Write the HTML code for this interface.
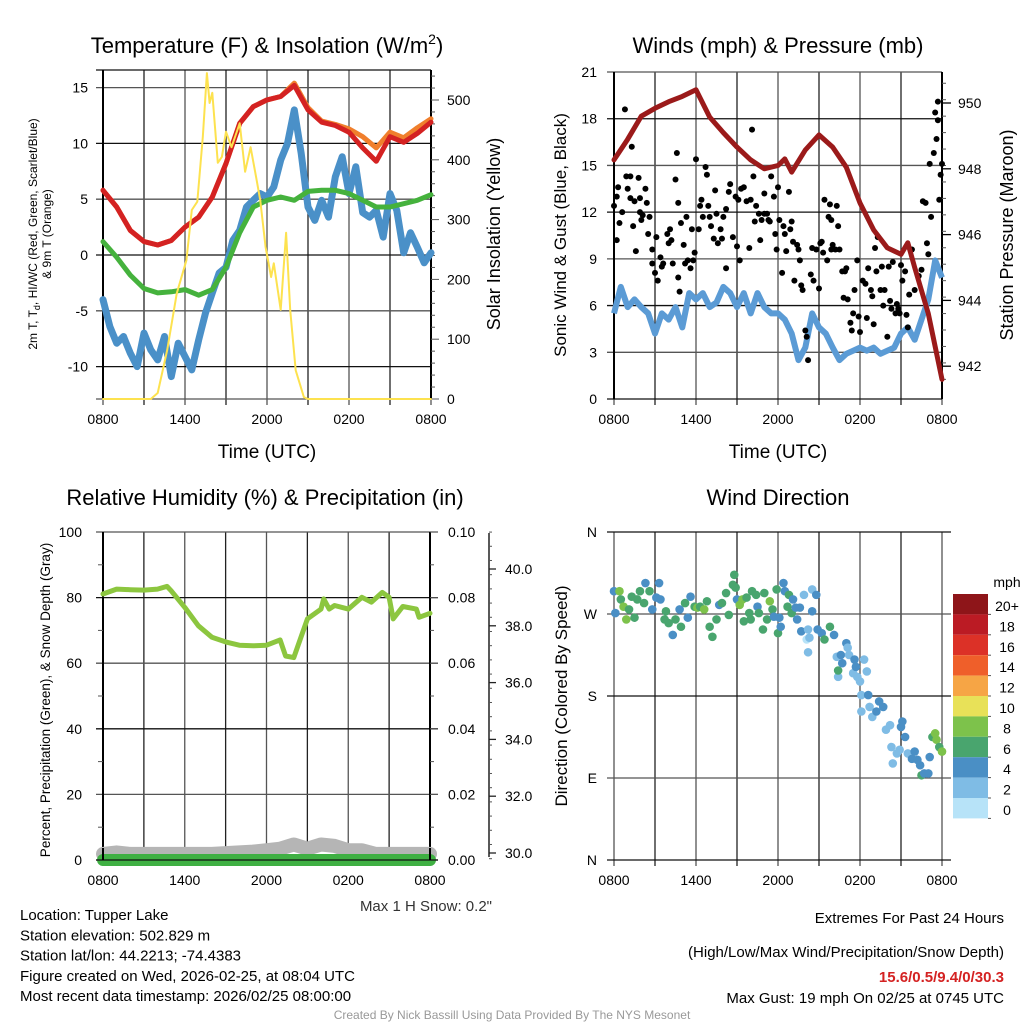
<!DOCTYPE html>
<html><head><meta charset="utf-8"><style>
body{margin:0;background:#fff;}
svg{display:block;font-family:"Liberation Sans",sans-serif;}
</style></head><body>
<svg id="c" width="1024" height="1024" viewBox="0 0 1024 1024" xmlns="http://www.w3.org/2000/svg"></svg>
<script>
// ---------- DATA ----------
const hourly = [0,1,2,3,4,5,6,7,8,9,10,11,12,13,14,15,16,17,18,19,20,21,22,23,24];
const tempRed = [5.8,4.3,2.2,1.2,0.9,1.3,2.5,3.4,5.2,8.2,11.8,13.3,13.9,14.2,15.2,13.0,11.9,11.6,11.0,9.6,8.4,10.6,10.1,10.9,11.9];
const tempOrange = [5.8,4.3,2.2,1.2,0.9,1.3,2.5,3.4,5.2,8.2,11.8,13.3,13.9,14.2,15.4,13.2,12.0,11.7,11.3,10.6,9.6,11.0,10.5,11.4,12.2];
const dewGreen = [1.2,-0.2,-1.8,-3.0,-3.4,-3.3,-3.1,-3.6,-3.1,-1.1,2.0,4.3,4.9,5.2,4.9,5.7,5.8,5.8,5.5,4.9,4.3,4.3,4.6,4.9,5.4];
const halfHours = [0,0.5,1,1.5,2,2.5,3,3.5,4,4.5,5,5.5,6,6.5,7,7.5,8,8.5,9,9.5,10,10.5,11,11.5,12,12.5,13,13.5,14,14.5,15,15.5,16,16.5,17,17.5,18,18.5,19,19.5,20,20.5,21,21.5,22,22.5,23,23.5,24];
const wcBlue = [-4.0,-6.4,-7.9,-7.3,-8.8,-10.0,-7.0,-8.5,-9.4,-7.3,-10.9,-7.9,-9.1,-10.3,-7.6,-5.2,-3.4,-1.6,-1.1,1.3,2.2,4.3,4.9,5.5,5.2,6.1,8.5,10.0,13.0,9.1,4.3,3.1,4.9,3.4,7.0,8.8,5.5,7.9,3.8,3.4,4.0,1.6,5.5,4.0,0.2,2.0,0.7,-0.7,0.2];
const solarHours = [0,3.5,4,4.7,5.4,6.1,6.5,6.9,7.3,7.6,7.8,8.0,8.4,8.7,9.0,9.4,10.0,10.4,10.8,11.2,11.5,11.9,12.3,12.5,13.0,13.4,13.7,14.1,14.7,15,24];
const solarWm2 = [0,0,10,82,177,232,316,330,438,545,495,512,395,405,447,421,461,380,421,371,333,254,204,227,149,278,149,48,3,0,0];
const pressHours = [0,1,2,3,4,5,6,7,8,9,10,11,12,12.5,13,14,15,16,17,18,19,20,21,21.5,22,23,24];
const pressMb = [948.27,948.9,949.6,949.84,950.04,950.2,950.4,949.57,949.1,948.66,948.27,948.0,948.1,948.3,947.9,948.57,949.03,948.66,948.05,946.96,946.14,945.6,945.4,945.75,945.0,943.6,941.6];
const sonicWind = [5.5,7.2,5.9,6.4,5.9,5.5,4.2,5.5,5.1,5.9,4.6,6.8,6.4,6.8,5.9,6.2,7.2,6.8,5.9,6.8,5.5,6.8,5.9,5.5,5.5,5.1,4.2,2.5,3.3,5.5,4.6,4.2,3.3,2.5,2.9,3.1,3.3,3.1,3.3,2.9,3.1,3.3,4.2,4.6,3.8,5.1,6.4,8.9,7.8];
const gustHours = [0,0.2,0.2,0.4,0.3,0.6,0.8,0.9,1.0,1.2,1.2,1.3,1.4,1.6,1.5,1.8,1.9,1.9,2.0,2.1,2.3,2.4,2.5,2.6,2.8,2.8,3.0,3.1,3.2,3.4,3.5,3.6,3.9,4.0,4.1,4.2,4.3,4.5,4.6,4.7,4.7,4.8,4.9,5.1,5.2,5.3,5.4,5.6,5.7,5.8,5.9,6.0,6.2,6.3,6.4,6.5,6.7,6.8,6.9,7.0,7.1,7.3,7.4,7.5,7.6,7.8,7.9,8.0,8.2,8.2,8.4,8.5,8.7,8.9,9.0,9.1,9.2,9.3,9.5,9.7,9.9,10.0,10.1,10.2,10.3,10.4,10.6,10.7,10.8,11.0,11.0,11.2,11.3,11.4,11.5,11.7,11.8,11.9,12.0,12.1,12.3,12.4,12.5,12.6,12.8,12.9,13.0,13.1,13.2,13.4,13.5,13.6,13.7,13.8,14.0,14.1,14.2,14.4,14.5,14.6,14.8,15.0,15.1,15.2,15.3,15.4,15.6,15.7,15.8,15.9,15.9,16.0,16.2,16.3,16.4,16.5,16.7,16.8,16.9,17.0,17.1,17.3,17.4,17.5,17.6,17.8,17.9,18.0,18.2,18.4,18.5,18.6,18.8,18.9,19.0,19.1,19.2,19.3,19.5,19.6,19.7,19.8,20.0,20.1,20.2,20.3,20.4,20.6,20.7,20.8,20.9,21.0,21.1,21.3,21.4,21.5,21.6,21.8,22.0,22.3,22.5,22.6,22.8,22.9,23.0,23.1,23.2,23.4,23.5,23.6,23.7,23.7,23.8,23.9,24.0];
const gustMph = [12.4,13.0,10.2,11.3,13.6,12.0,18.6,14.3,13.5,12.9,14.3,16.2,11.1,9.5,12.7,14.2,12.9,12.0,11.5,11.8,13.5,12.6,10.6,11.7,8.7,9.6,8.1,10.4,7.6,9.1,8.5,8.7,10.6,10.0,10.9,10.2,8.7,14.1,15.8,12.6,7.8,6.9,11.3,9.9,8.7,11.7,8.9,8.4,10.9,8.9,9.4,15.4,10.9,12.4,12.8,11.7,14.9,14.4,12.4,11.7,11.1,10.3,13.4,11.9,10.0,10.9,10.3,11.7,8.4,12.2,13.3,13.8,10.4,13.0,9.8,12.8,8.9,13.5,13.6,12.7,9.7,12.8,17.3,14.3,11.4,12.4,11.9,10.2,11.5,13.2,11.9,11.9,11.5,11.4,14.3,13.0,10.6,9.6,13.6,11.5,8.1,11.1,10.6,9.5,13.3,10.9,11.4,10.1,7.6,9.9,9.6,8.9,7.3,7.0,4.4,4.0,2.5,8.0,9.7,7.6,9.6,7.1,10.0,10.1,9.4,12.8,8.9,11.7,12.5,9.6,11.5,9.9,9.6,12.4,11.1,9.6,8.2,6.5,8.2,8.4,6.4,4.9,4.4,5.5,7.0,8.9,5.3,4.3,7.6,7.4,5.2,8.4,7.0,6.6,4.8,9.7,8.2,10.4,7.0,8.5,6.0,7.0,4.0,8.5,6.3,5.8,8.8,5.5,6.1,5.8,5.5,8.6,7.6,8.2,5.4,4.6,6.7,9.6,7.0,7.9,8.3,12.7,12.6,10.0,9.3,15.1,11.7,15.8,18.4,16.7,17.9,19.1,12.8,14.4,15.1];
const rhHours = [0,1,2,3,4,4.7,5,6,7,8,9,10,11,12,13,13.4,14,15,16,16.2,16.6,17,18,19,19.7,20.5,21,21.3,22,23,23.2,24];
const rhPct = [81.1,82.6,82.4,82.3,82.6,83.4,82.1,77.0,71.4,67.9,66.5,65.5,65.3,65.5,67.1,62.2,61.7,73.5,76.5,79.6,76.5,77.6,76.5,80.1,78.6,81.6,80.1,73.5,77.3,76.5,74.0,75.2];
const precipIn = [0,0];
const precipHours = [0,24];
const snowHours = [0,1,2,4,6,8,10,11,12,13,14,15,16,17,18,19,20,21,22,24];
const snowIn = [29.97,30.02,29.97,29.97,29.97,29.97,30.02,30.05,30.1,30.15,30.3,30.15,30.3,30.25,30.1,30.1,29.97,29.97,29.97,29.97];
const dirHours = [0,0.1,0.4,0.5,0.7,0.9,1.1,1.3,1.5,1.7,1.9,2.2,2.3,2.6,2.8,3.1,3.3,3.4,3.7,3.8,4.0,4.3,4.5,4.8,4.9,5.2,5.4,5.6,5.9,6.1,6.3,6.6,6.8,7.0,7.2,7.5,7.7,7.9,8.2,8.4,8.7,8.8,8.9,9.0,9.2,9.4,9.5,9.7,9.9,10.0,10.1,10.4,10.5,10.6,10.9,11.0,11.2,11.4,11.6,11.7,11.9,12.0,12.1,12.2,12.4,12.5,12.7,12.8,13.0,13.1,13.3,13.4,13.6,13.7,13.9,14.1,14.2,14.2,14.3,14.5,14.5,14.8,14.9,15.2,15.4,15.8,16.1,16.3,16.4,16.4,16.6,16.7,17.0,17.1,17.2,17.5,17.6,17.7,17.8,18.0,18.1,18.3,18.5,18.6,18.7,18.1,18.9,19.2,19.4,19.7,19.9,20.2,20.3,20.4,20.7,20.9,21.0,21.1,21.3,21.5,21.8,22.0,22.2,22.4,22.5,22.7,23.0,23.1,23.3,23.5,23.6,23.8,24.0];
const dirDeg = [295,271,295,286,278,264,275,289,266,286,295,282,304,295,275,288,304,286,264,273,260,247,264,275,256,282,266,289,278,277,278,275,284,256,245,264,280,282,293,269,302,313,299,286,280,286,262,288,271,264,295,291,278,271,253,293,264,284,275,267,297,249,266,256,304,295,278,291,271,286,277,264,277,251,291,242,253,228,244,297,273,291,253,249,242,256,247,223,201,208,225,216,238,233,225,205,220,212,201,196,181,220,207,181,168,163,157,163,174,168,143,148,124,106,117,121,146,152,135,117,111,119,110,104,93,95,95,113,135,139,132,124,119];
const dirSpd = [5,5,9,7,9,9,7,7,7,7,7,7,5,7,5,5,5,5,7,7,7,5,7,5,7,7,5,5,7,9,7,9,7,7,7,7,5,7,7,7,7,7,7,5,9,9,7,7,7,7,7,7,5,7,7,7,7,9,7,5,7,7,5,5,5,5,7,7,7,5,5,5,5,5,3,1,3,3,3,3,5,5,5,5,7,7,5,3,3,7,5,5,5,3,3,3,5,5,3,3,3,3,3,5,3,3,3,5,5,5,3,3,3,3,3,3,5,5,5,3,5,5,5,5,7,5,5,5,7,9,9,7,9];
const speedBins = ["20+","18","16","14","12","10","8","6","4","2","0"];
const speedColors = ["#8e1519","#bb1b24","#dc3127","#ef5f2a","#f6a545","#e8e158","#7dc24b","#49a56e","#4a8fc5","#7fbce5","#b7e3f8"];

// ---------- HELPERS ----------
const NS="http://www.w3.org/2000/svg";
const svg=document.getElementById('c');
function mk(tag,attrs,parent){const e=document.createElementNS(NS,tag);for(const k in attrs)e.setAttribute(k,attrs[k]);(parent||svg).appendChild(e);return e;}
function txt(s,x,y,size,anchor,parent,extra){const e=mk('text',Object.assign({x:x,y:y,'font-size':size,'text-anchor':anchor||'middle',fill:'#000'},extra||{}),parent);e.textContent=s;return e;}
function pathOf(xs,ys,fx,fy){let d='';for(let i=0;i<xs.length;i++){d+=(i?'L':'M')+fx(xs[i]).toFixed(1)+','+fy(ys[i]).toFixed(1);}return d;}

const xTickLabels=["0800","1400","2000","0200","0800"];

function panelGrid(g,L,R,T,B,hLines,extend){
  for(let i=0;i<=8;i++){const x=L+(R-L)*i/8;mk('line',{x1:x,y1:T,x2:x,y2:B+6,stroke:i%2?'#222':'#555','stroke-width':1.3},g);}
  hLines.forEach((y,i)=>{mk('line',{x1:L-7,y1:y,x2:R+(extend||0),y2:y,stroke:i%2?'#555':'#111','stroke-width':1.3},g);});
  xTickLabels.forEach((s,i)=>{const t=txt(s,L+(R-L)*i/4,B+25,14,'middle',g);});
}

// ---------- PANEL 1: Temperature ----------
(function(){
  const g=mk('g',{});
  
  
  const L=103,R=431,T=70,B=399;
  const fx=h=>L+(R-L)*h/24;
  const fy=v=>255-v*11.16;
  const fs=s=>399-s*0.598;
  panelGrid(g,L,R,T,B,[T,fy(15),fy(10),fy(5),fy(0),fy(-5),fy(-10),B]);
  mk('line',{x1:L,y1:T,x2:L,y2:B,stroke:'#000','stroke-width':2},g);
  mk('line',{x1:R,y1:T,x2:R,y2:B,stroke:'#000','stroke-width':2},g);
  [15,10,5,0,-5,-10].forEach(v=>{const t=txt(String(v),88,fy(v)+5,14,'end',g);});
  for(let s=0;s<=540;s+=20){mk('line',{x1:R,y1:fs(s),x2:R+(s%100?4:8),y2:fs(s),stroke:'#555','stroke-width':1},g);}
  [0,100,200,300,400,500].forEach(s=>{const t=txt(String(s),447,fs(s)+5,14,'start',g);});
  const ls=[['blue-wc-line',halfHours,wcBlue,'#4a90c8',7,fy],['green-dewpoint-line',hourly,dewGreen,'#45b23d',5,fy],['orange-9m-temp-line',hourly,tempOrange,'#f07f2c',5,fy],['red-temp-line',hourly,tempRed,'#d42222',5,fy],['yellow-solar-line',solarHours,solarWm2,'#fde24f',2,fs]];
  ls.forEach(a=>{const p=mk('path',{d:pathOf(a[1],a[2],fx,a[5]),fill:'none',stroke:a[3],'stroke-width':a[4],'stroke-linejoin':'round','stroke-linecap':'round'},g);});
  const ti=mk('text',{x:267,y:53,'font-size':22,'text-anchor':'middle'},g);ti.innerHTML='Temperature (F) &amp; Insolation (W/m<tspan dy="-9" font-size="14">2</tspan><tspan dy="9">)</tspan>';
  
  const xt=txt('Time (UTC)',267,458,19,'middle',g);
  const y1=mk('text',{transform:'translate(37,234) rotate(-90)','font-size':12,'text-anchor':'middle'},g);y1.innerHTML='2m T, T<tspan dy="3" font-size="9">d</tspan><tspan dy="-3">, HI/WC (Red, Green, Scarlet/Blue)</tspan>';
  
  const y1b=txt('& 9m T (Orange)',0,0,12,'middle',g,{transform:'translate(51,234) rotate(-90)'});
  const y2=txt('Solar Insolation (Yellow)',0,0,18,'middle',g,{transform:'translate(500,234) rotate(-90)'});
})();

// ---------- PANEL 2: Winds ----------
(function(){
  const g=mk('g',{});
  
  
  const L=614,R=942,T=72,B=399;
  const fx=h=>L+(R-L)*h/24;
  const fy=w=>399-w*15.57;
  const fp=p=>103+(950-p)*32.9;
  const hl=[];for(let w=0;w<=21;w+=3)hl.push(fy(w));
  panelGrid(g,L,R,T,B,hl);
  mk('line',{x1:L,y1:T,x2:L,y2:B,stroke:'#000','stroke-width':2},g);
  mk('line',{x1:R,y1:T,x2:R,y2:B,stroke:'#000','stroke-width':2},g);
  for(let w=0;w<=21;w+=3){const t=txt(String(w),597,fy(w)+5,14,'end',g);}
  for(let p=941.6;p<=951;p+=0.5){mk('line',{x1:R,y1:fp(p),x2:R+4,y2:fp(p),stroke:'#555','stroke-width':1},g);}
  [942,944,946,948,950].forEach(p=>{mk('line',{x1:R,y1:fp(p),x2:R+9,y2:fp(p),stroke:'#000','stroke-width':1.3},g);const t=txt(String(p),958,fp(p)+5,14,'start',g);});
  const sw=mk('path',{d:pathOf(halfHours,sonicWind,fx,fy),fill:'none',stroke:'#5b9bd5','stroke-width':6,'stroke-linejoin':'round'},g);
  
  gustHours.forEach((h,i)=>{const c=mk('circle',{cx:fx(h),cy:fy(gustMph[i]),r:3,fill:'#000'},g);});
  const pr=mk('path',{d:pathOf(pressHours,pressMb,fx,fp),fill:'none',stroke:'#9b1a1a','stroke-width':5,'stroke-linejoin':'round','stroke-linecap':'round'},g);
  
  const ti=txt('Winds (mph) & Pressure (mb)',778,53,22,'middle',g);
  const xt=txt('Time (UTC)',778,458,19,'middle',g);
  const y1=txt('Sonic Wind & Gust (Blue, Black)',0,0,17,'middle',g,{transform:'translate(566,235) rotate(-90)'});
  const y2=txt('Station Pressure (Maroon)',0,0,18,'middle',g,{transform:'translate(1013,235) rotate(-90)'});
})();

// ---------- PANEL 3: RH ----------
(function(){
  const g=mk('g',{});
  
  
  const L=103,R=430,T=532,B=860;
  const fx=h=>L+(R-L)*h/24;
  const fy=v=>860-v*3.28;
  const fpr=v=>860-v*3280;
  const fsn=d=>853-(d-30)*28.4;
  const hl=[];for(let v=0;v<=100;v+=20)hl.push(fy(v));
  panelGrid(g,L,R,T,B,hl,8);
  mk('line',{x1:L,y1:T,x2:L,y2:B,stroke:'#000','stroke-width':2},g);
  mk('line',{x1:R,y1:T,x2:R,y2:B,stroke:'#000','stroke-width':2},g);
  for(let v=0;v<=100;v+=10){if(v%20)mk('line',{x1:L-5,y1:fy(v),x2:L,y2:fy(v),stroke:'#555'},g);}
  for(let v=0;v<=100;v+=20){const t=txt(String(v),82,fy(v)+5,14,'end',g);}
  for(let v=0;v<=10;v++){mk('line',{x1:R,y1:fy(v*10),x2:R+(v%2?4:8),y2:fy(v*10),stroke:'#555'},g);}
  ["0.00","0.02","0.04","0.06","0.08","0.10"].forEach((s,i)=>{const t=txt(s,448,fy(i*20)+5,14,'start',g);});
  mk('line',{x1:489,y1:T+1,x2:489,y2:B-3,stroke:'#222','stroke-width':1.5},g);
  for(let d=29.8;d<=41.4;d+=0.5){mk('line',{x1:489,y1:fsn(d),x2:492,y2:fsn(d),stroke:'#555'},g);}
  ["30.0","32.0","34.0","36.0","38.0","40.0"].forEach((s,i)=>{mk('line',{x1:489,y1:fsn(30+2*i),x2:496,y2:fsn(30+2*i),stroke:'#222','stroke-width':1.3},g);const t=txt(s,505,fsn(30+2*i)+5,14,'start',g);});
  const sn=mk('path',{d:pathOf(snowHours,snowIn,fx,fsn),fill:'none',stroke:'#b5b5b5','stroke-width':14,'stroke-linejoin':'round','stroke-linecap':'round'},g);
  
  const pp=mk('path',{d:pathOf(precipHours,precipIn,fx,fpr),fill:'none',stroke:'#3fb043','stroke-width':12,'stroke-linecap':'round'},g);
  
  mk('line',{x1:L-7,y1:B,x2:R+8,y2:B,stroke:'#111','stroke-width':1.3},g);
  mk('line',{x1:L,y1:B-12,x2:L,y2:B,stroke:'#000','stroke-width':2},g);
  mk('line',{x1:R,y1:B-12,x2:R,y2:B,stroke:'#000','stroke-width':2},g);
  const rh=mk('path',{d:pathOf(rhHours,rhPct,fx,fy),fill:'none',stroke:'#8cc63f','stroke-width':5,'stroke-linejoin':'round','stroke-linecap':'round'},g);
  
  const ti=txt('Relative Humidity (%) & Precipitation (in)',265,505,22,'middle',g);
  const y1=txt('Percent, Precipitation (Green), & Snow Depth (Gray)',0,0,13.5,'middle',g,{transform:'translate(50,700) rotate(-90)'});
  const ms=txt('Max 1 H Snow: 0.2"',492,911,15,'end',g,{fill:'#333'});
})();

// ---------- PANEL 4: Wind Direction ----------
(function(){
  const g=mk('g',{});
  
  
  const L=614,R=942,T=532,B=860;
  const fx=h=>L+(R-L)*h/24;
  const fy=d=>860-d*328/360;
  panelGrid(g,L,R,T,B,[fy(360),fy(270),fy(180),fy(90),fy(0)],9);
  ["N","E","S","W","N"].forEach((s,i)=>{const t=txt(s,597,fy(i*90)+5,14,'end',g);});
  dirHours.forEach((h,i)=>{const bi=Math.max(0,Math.min(10,10-Math.floor(dirSpd[i]/2)));const c=mk('circle',{cx:fx(h),cy:fy(dirDeg[i]),r:4.3,fill:speedColors[bi]},g);});
  const ti=txt('Wind Direction',778,505,22,'middle',g);
  const y1=txt('Direction (Colored By Speed)',0,0,17,'middle',g,{transform:'translate(567,696) rotate(-90)'});
  const lg=mk('g',{},g);
  speedBins.forEach((s,i)=>{const y=594+i*20.4;mk('rect',{x:953,y:y,width:35,height:20.4,fill:speedColors[i]},lg);mk('line',{x1:988,y1:y+20.4,x2:991,y2:y+20.4,stroke:'#555'},lg);const t=txt(s,1007,y+17,14,'middle',lg);});
  const u=txt('mph',1007,587,14,'middle',lg);
})();

// ---------- TEXT ----------
const info=["Location: Tupper Lake","Station elevation: 502.829 m","Station lat/lon: 44.2213; -74.4383","Figure created on Wed, 2026-02-25, at 08:04 UTC","Most recent data timestamp: 2026/02/25 08:00:00"];
info.forEach((s,i)=>{const t=txt(s,20,920+i*20.3,15,'start');});
let t;
t=txt('Extremes For Past 24 Hours',1004,923,15,'end');
t=txt('(High/Low/Max Wind/Precipitation/Snow Depth)',1004,957,15,'end');
t=txt('15.6/0.5/9.4/0/30.3',1004,982,15,'end',null,{fill:'#d42222','font-weight':'bold'});
t=txt('Max Gust: 19 mph On 02/25 at 0745 UTC',1004,1003,15,'end');
t=txt('Created By Nick Bassill Using Data Provided By The NYS Mesonet',512,1019,12,'middle',null,{fill:'#999'});
</script>
</body></html>
